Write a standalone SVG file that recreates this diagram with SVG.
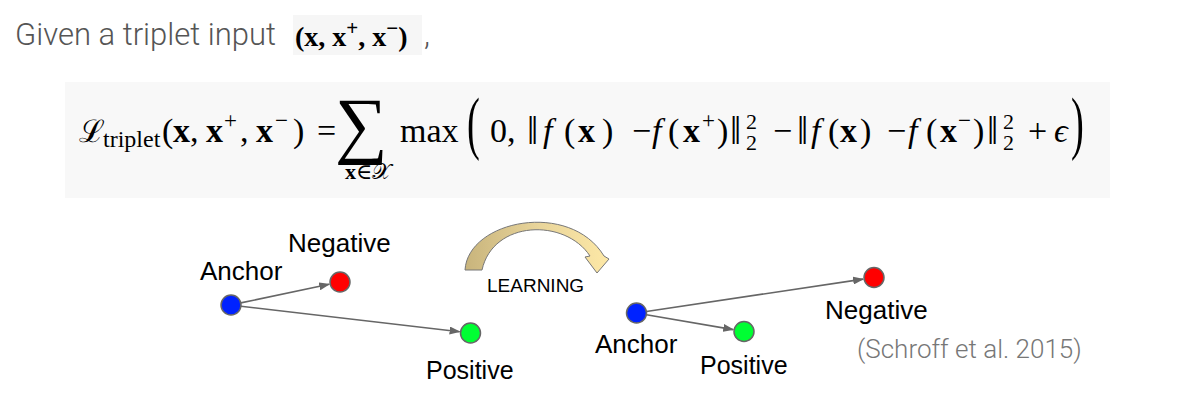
<svg xmlns="http://www.w3.org/2000/svg" width="1192" height="418" viewBox="0 0 1192 418">
<defs>
<style>
.lbl{font-family:"Liberation Sans",Arial,sans-serif;fill:#000}
.rob{font-family:Roboto,"Liberation Sans",sans-serif;font-weight:300}
.m{font-family:"Liberation Serif","DejaVu Serif",serif;fill:#000}
.b{font-weight:bold}
.i{font-style:italic}
.dot{stroke:#666;stroke-width:1.5}
.edge{stroke:#666;stroke-width:1.6;fill:none;marker-end:url(#ah)}
</style>
<marker id="ah" markerUnits="userSpaceOnUse" markerWidth="11" markerHeight="8" refX="10" refY="4" orient="auto">
<path d="M0,0 L11,4 L0,8 z" fill="#666"/>
</marker>
<linearGradient id="tan" x1="0" y1="0" x2="1" y2="0">
<stop offset="0" stop-color="#c8b47c"/>
<stop offset="0.5" stop-color="#e8d49a"/>
<stop offset="1" stop-color="#fde8a6"/>
</linearGradient>
</defs>
<rect width="1192" height="418" fill="#fff"/>

<g id="header">
<text class="rob" x="15" y="45" font-size="31" fill="#555">Given a triplet input</text>
<rect x="293" y="15" width="129" height="40" fill="#f6f6f6"/>
<text x="295" y="46" font-family="'Liberation Serif',serif" font-size="28" font-weight="bold">(x, x<tspan font-size="21" dy="-11">+</tspan><tspan dy="11">, x</tspan><tspan font-size="21" dy="-11">−</tspan><tspan dy="11">)</tspan></text>
<text class="rob" x="424" y="45" font-size="31" fill="#555">,</text>
</g>

<g id="formula" font-size="34">
<rect x="65" y="82" width="1045" height="116" fill="#f8f8f8"/>
<text class="m" x="79" y="142" font-size="31">ℒ</text>
<text class="m" x="103" y="147" font-size="24">triplet</text>
<text class="m" y="142"><tspan x="162">(</tspan><tspan x="173" class="b">x</tspan><tspan x="190">,</tspan><tspan x="206" class="b">x</tspan><tspan x="224" y="128" font-size="23">+</tspan><tspan x="240" y="142">,</tspan><tspan x="256" class="b">x</tspan><tspan x="275" y="128" font-size="23">−</tspan><tspan x="293" y="142">)</tspan></text>
<text class="m" x="317" y="142">=</text>
<text class="m" x="335" y="149" font-size="74">∑</text>
<text class="m" x="345" y="179" font-size="22"><tspan class="b">x</tspan>∈𝒳</text>
<text class="m" x="400" y="142">max</text>
<text class="m" transform="translate(467,146) scale(0.55,1)" font-size="70">(</text>
<text class="m" x="490" y="142">0,</text>
<text class="m" y="142"><tspan x="527" font-size="40" y="144">‖</tspan><tspan x="543" y="142" class="i">f</tspan><tspan x="564">(</tspan><tspan x="578" class="b">x</tspan><tspan x="602">)</tspan><tspan x="632">−</tspan><tspan x="652" class="i">f</tspan><tspan x="668">(</tspan><tspan x="683" class="b">x</tspan><tspan x="702" y="128" font-size="23">+</tspan><tspan x="717" y="142">)</tspan><tspan x="730" font-size="40" y="144">‖</tspan></text>
<text class="m" x="746" y="129" font-size="22">2</text>
<text class="m" x="746" y="150" font-size="22">2</text>
<text class="m" x="773" y="142">−</text>
<text class="m" y="142"><tspan x="797" font-size="40" y="144">‖</tspan><tspan x="811" y="142" class="i">f</tspan><tspan x="828">(</tspan><tspan x="840" class="b">x</tspan><tspan x="860">)</tspan><tspan x="887">−</tspan><tspan x="908" class="i">f</tspan><tspan x="926">(</tspan><tspan x="940" class="b">x</tspan><tspan x="958" y="128" font-size="23">−</tspan><tspan x="973" y="142">)</tspan><tspan x="987" font-size="40" y="144">‖</tspan></text>
<text class="m" x="1003" y="129" font-size="22">2</text>
<text class="m" x="1003" y="150" font-size="22">2</text>
<text class="m" x="1028" y="142">+</text>
<text class="m i" x="1054" y="142">ϵ</text>
<text class="m" transform="translate(1071,146) scale(0.55,1)" font-size="70">)</text>
</g>

<g id="connectors">
<line class="edge" x1="240.8" y1="302.9" x2="329.2" y2="284.3"/>
<line class="edge" x1="240.9" y1="306.2" x2="459.6" y2="331.7"/>
<line class="edge" x1="646.4" y1="314.7" x2="733.2" y2="329.6"/>
<line class="edge" x1="646.4" y1="311.5" x2="863.1" y2="279.1"/>
</g>

<g id="left-anchor"><circle class="dot" cx="231" cy="305" r="10" fill="#0022ff"/><text class="lbl" x="200" y="280" font-size="26">Anchor</text></g>
<g id="left-negative"><circle class="dot" cx="340" cy="282" r="10" fill="#ff0000"/><text class="lbl" x="288" y="252" font-size="26">Negative</text></g>
<g id="left-positive"><circle class="dot" cx="470.5" cy="333" r="10" fill="#00ff33"/><text class="lbl" x="426" y="379" font-size="25">Positive</text></g>

<g id="learning">
<path d="M465 270 C468 220 570 200 604 256 L609 259 L597 273 L585 257 L590 256 C565 218 493 220 482 270 Z" fill="url(#tan)" stroke="#777" stroke-width="1"/>
<text class="lbl" x="487" y="291.5" font-size="19">LEARNING</text>
</g>

<g id="right-anchor"><circle class="dot" cx="636.5" cy="313" r="10" fill="#0022ff"/><text class="lbl" x="595" y="353" font-size="26">Anchor</text></g>
<g id="right-positive"><circle class="dot" cx="744" cy="331.5" r="10" fill="#00ff33"/><text class="lbl" x="700" y="374" font-size="25">Positive</text></g>
<g id="right-negative"><circle class="dot" cx="874" cy="277.5" r="10" fill="#ff0000"/><text class="lbl" x="825" y="319" font-size="26">Negative</text></g>

<text class="rob" x="857" y="358" font-size="26" fill="#777">(Schroff et al. 2015)</text>
</svg>
